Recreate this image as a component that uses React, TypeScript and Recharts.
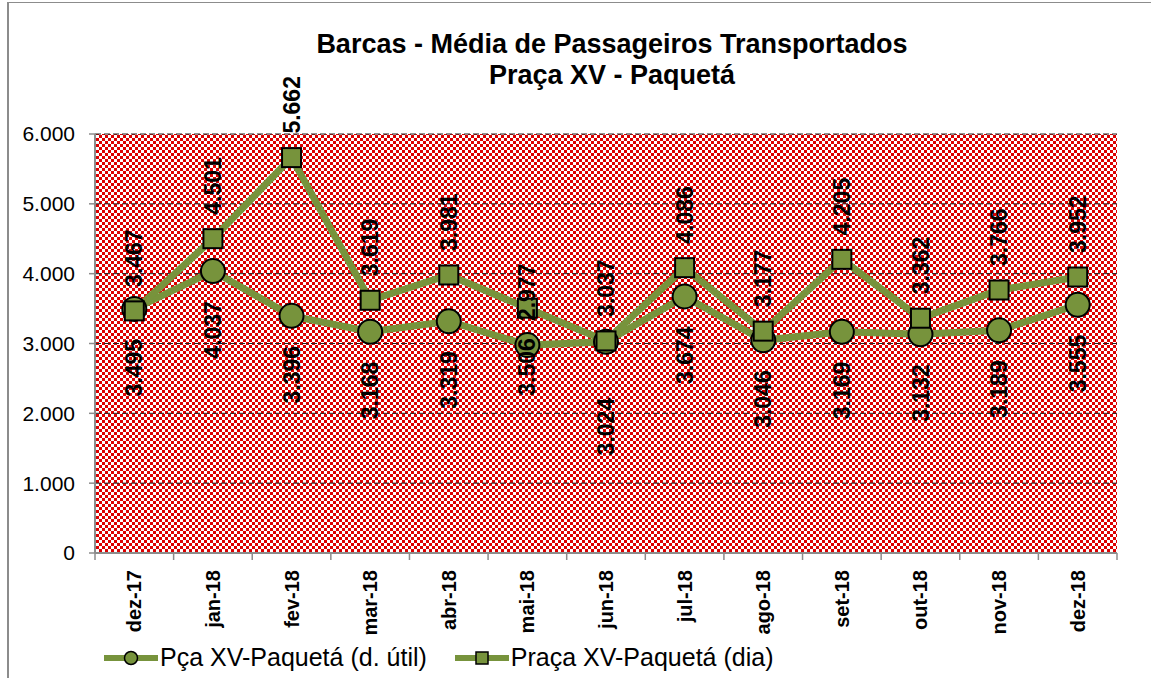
import React from "react";
import {
  LineChart,
  Line,
  XAxis,
  YAxis,
  CartesianGrid,
  LabelList,
} from "recharts";

// meses
const meses = [
  "dez-17", "jan-18", "fev-18", "mar-18", "abr-18", "mai-18", "jun-18",
  "jul-18", "ago-18", "set-18", "out-18", "nov-18", "dez-18",
];

// valores plotados
const utilValores = [3495, 4037, 3396, 3168, 3319, 2977, 3024, 3674, 3046, 3169, 3132, 3189, 3555];
const diaValores = [3467, 4501, 5662, 3619, 3981, 3506, 3037, 4086, 3177, 4205, 3362, 3766, 3952];

// rótulos como aparecem no gráfico original (mai-18 trocado)
const utilRotulos = [3495, 4037, 3396, 3168, 3319, 3506, 3024, 3674, 3046, 3169, 3132, 3189, 3555];
const diaRotulos = [3467, 4501, 5662, 3619, 3981, 2977, 3037, 4086, 3177, 4205, 3362, 3766, 3952];

const yTicks = [0, 1000, 2000, 3000, 4000, 5000, 6000];

const data = meses.map((m, i) => ({
  mes: m,
  util: utilValores[i],
  dia: diaValores[i],
  utilRotulo: utilRotulos[i],
  diaRotulo: diaRotulos[i],
}));

const VERDE = "#77933C";
const CINZA = "#8c8c8c";
const FONTE = "'Liberation Sans', Arial, sans-serif";
const W = 1151;
const H = 678;
const PLOT_W = 1022;
const MEIO = PLOT_W / meses.length / 2;

const fmt = (v: number) =>
  String(v).replace(/\B(?=(\d{3})+(?!\d))/g, ".");

function XTick(props: any) {
  const { x, y, payload, index } = props;
  return (
    <g>
      <line x1={x - MEIO} x2={x - MEIO} y1={y} y2={y + 7} stroke={CINZA} strokeWidth={1.5} />
      {index === meses.length - 1 && (
        <line x1={x + MEIO} x2={x + MEIO} y1={y} y2={y + 7} stroke={CINZA} strokeWidth={1.5} />
      )}
      <text
        x={x}
        y={y + 17}
        transform={`rotate(-90 ${x} ${y + 17})`}
        textAnchor="end"
        dy="0.35em"
        fontFamily={FONTE}
        fontWeight="bold"
        fontSize={20}
        fill="#000"
      >
        {payload.value}
      </text>
    </g>
  );
}

function RotuloAcima(props: any) {
  const { x, y, value } = props;
  const ty = y - 24;
  return (
    <text
      x={x}
      y={ty}
      transform={`rotate(-90 ${x} ${ty})`}
      textAnchor="start"
      dy="0.35em"
      fontFamily={FONTE}
      fontWeight="bold"
      fontSize={23}
      fill="#000"
    >
      {fmt(value)}
    </text>
  );
}

function RotuloAbaixo(props: any) {
  const { x, y, value, index } = props;
  // rótulo de jun-18 foi deslocado no original
  const ty = y + (index === 6 ? 56 : 30);
  return (
    <text
      x={x}
      y={ty}
      transform={`rotate(-90 ${x} ${ty})`}
      textAnchor="end"
      dy="0.35em"
      fontFamily={FONTE}
      fontWeight="bold"
      fontSize={23}
      fill="#000"
    >
      {fmt(value)}
    </text>
  );
}

function MarcadorCirculo(props: any) {
  const { cx, cy } = props;
  if (cx == null || cy == null) return null;
  return <circle cx={cx} cy={cy} r={12} fill={VERDE} stroke="#000" strokeWidth={2} />;
}

function MarcadorQuadrado(props: any) {
  const { cx, cy } = props;
  if (cx == null || cy == null) return null;
  return <rect x={cx - 9.5} y={cy - 9.5} width={19} height={19} fill={VERDE} stroke="#000" strokeWidth={2} />;
}

function Legenda() {
  const item = (quadrado: boolean, texto: string, margem: number) => (
    <div style={{ display: "flex", alignItems: "center", marginRight: margem }}>
      <svg width={54} height={22}>
        <line x1={0} x2={54} y1={11} y2={11} stroke={VERDE} strokeWidth={6} />
        {quadrado ? (
          <rect x={21} y={5} width={12} height={12} fill={VERDE} stroke="#000" strokeWidth={1.5} />
        ) : (
          <circle cx={27} cy={11} r={6.5} fill={VERDE} stroke="#000" strokeWidth={1.5} />
        )}
      </svg>
      <span style={{ fontFamily: FONTE, fontSize: 25, color: "#000", marginLeft: 2 }}>{texto}</span>
    </div>
  );
  return (
    <div style={{ position: "absolute", left: 104, top: 643, display: "flex" }}>
      {item(false, "Pça XV-Paquetá (d. útil)", 28)}
      {item(true, "Praça XV-Paquetá (dia)", 0)}
    </div>
  );
}

export default function App() {
  return (
    <div
      style={{
        position: "absolute",
        left: 0,
        top: 0,
        width: W,
        height: H,
        overflow: "hidden",
        background: "#fff",
      }}
    >
      <div
        style={{
          position: "absolute",
          left: 7,
          top: 2,
          width: 1200,
          height: 700,
          borderLeft: `2px solid ${CINZA}`,
          borderTop: `1.5px solid ${CINZA}`,
        }}
      />
      <div
        style={{
          position: "absolute",
          left: 0,
          top: 29,
          width: 1224,
          textAlign: "center",
          fontFamily: FONTE,
          fontWeight: "bold",
          fontSize: 27,
          lineHeight: "31px",
          color: "#000",
        }}
      >
        <div>Barcas - Média de Passageiros Transportados</div>
        <div>Praça XV - Paquetá</div>
      </div>
      <div style={{ position: "absolute", left: 0, top: 0 }}>
        <LineChart
          width={W}
          height={H}
          data={data}
          margin={{ top: 134, right: 34, bottom: 0, left: 0 }}
        >
          <defs>
            <pattern id="xadrez" width={6} height={6} patternUnits="userSpaceOnUse">
              <rect width={6} height={6} fill="#ffffff" />
              <rect x={0} y={0} width={3} height={3} fill="#dd0000" />
              <rect x={3} y={3} width={3} height={3} fill="#dd0000" />
            </pattern>
          </defs>
          <CartesianGrid
            vertical={false}
            fill="url(#xadrez)"
            fillOpacity={1}
            stroke="#222"
            strokeDasharray="6 3"
            strokeWidth={1}
          />
          <XAxis
            dataKey="mes"
            height={125}
            padding={{ left: MEIO, right: MEIO }}
            interval={0}
            tickLine={false}
            tickSize={0}
            tickMargin={0}
            tick={<XTick />}
            axisLine={{ stroke: CINZA, strokeWidth: 2 }}
          />
          <XAxis
            xAxisId="topo"
            orientation="top"
            dataKey="mes"
            height={0}
            tick={false}
            tickLine={false}
            axisLine={{ stroke: CINZA, strokeWidth: 2.5 }}
          />
          <YAxis
            width={95}
            domain={[0, 6000]}
            ticks={yTicks}
            interval={0}
            tickFormatter={fmt}
            tickSize={6}
            tickMargin={14}
            tickLine={{ stroke: CINZA, strokeWidth: 1.5 }}
            axisLine={{ stroke: CINZA, strokeWidth: 2 }}
            tick={{ fontFamily: FONTE, fontSize: 21, fill: "#000" }}
          />
          <YAxis
            yAxisId="dir"
            orientation="right"
            width={0}
            tick={false}
            tickLine={false}
            axisLine={{ stroke: CINZA, strokeWidth: 3 }}
          />
          <Line
            dataKey="util"
            name="Pça XV-Paquetá (d. útil)"
            stroke={VERDE}
            strokeWidth={7}
            dot={<MarcadorCirculo />}
            activeDot={false}
            isAnimationActive={false}
          />
          <Line
            dataKey="dia"
            name="Praça XV-Paquetá (dia)"
            stroke={VERDE}
            strokeWidth={7}
            dot={<MarcadorQuadrado />}
            activeDot={false}
            isAnimationActive={false}
          />
          <Line
            dataKey="utilRotulo"
            stroke="none"
            dot={false}
            activeDot={false}
            legendType="none"
            isAnimationActive={false}
          >
            <LabelList dataKey="utilRotulo" content={<RotuloAbaixo />} />
          </Line>
          <Line
            dataKey="diaRotulo"
            stroke="none"
            dot={false}
            activeDot={false}
            legendType="none"
            isAnimationActive={false}
          >
            <LabelList dataKey="diaRotulo" content={<RotuloAcima />} />
          </Line>
        </LineChart>
      </div>
      <Legenda />
    </div>
  );
}
